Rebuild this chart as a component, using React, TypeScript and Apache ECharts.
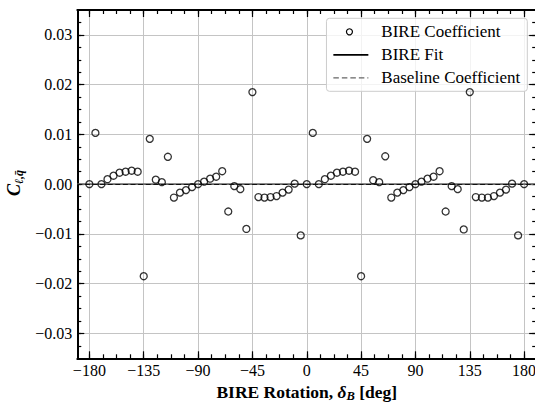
import { useEffect, useRef } from 'react';
import * as echarts from 'echarts';

// Rotation angles (deg) and measured BIRE coefficients
const ANGLES = [
  -180, -175, -170, -165, -160, -155, -150, -145, -140, -135, -130, -125, -120, -115, -110, -105, -100, -95,
  -90, -85, -80, -75, -70, -65, -60, -55, -50, -45, -40, -35, -30, -25, -20, -15, -10, -5,
  0, 5, 10, 15, 20, 25, 30, 35, 40, 45, 50, 55, 60, 65, 70, 75, 80, 85,
  90, 95, 100, 105, 110, 115, 120, 125, 130, 135, 140, 145, 150, 155, 160, 165, 170, 175, 180,
];
const BIRE_COEFF = [
  0, 0.0103, 0, 0.001, 0.0017, 0.0023, 0.0025, 0.0027, 0.0025, -0.0185, 0.0091, 0.0009, 0.0004, 0.0055, -0.0027, -0.0017, -0.0012, -0.0006,
  0, 0.0005, 0.0011, 0.0015, 0.0026, -0.0055, -0.0004, -0.001, -0.009, 0.0185, -0.0026, -0.0027, -0.0026, -0.0024, -0.0017, -0.0011, 0.0001, -0.0103,
  0, 0.0103, 0, 0.001, 0.0017, 0.0023, 0.0025, 0.0027, 0.0025, -0.0185, 0.0091, 0.0008, 0.0004, 0.0056, -0.0027, -0.0017, -0.0012, -0.0006,
  0, 0.0005, 0.0011, 0.0015, 0.0026, -0.0055, -0.0004, -0.001, -0.0091, 0.0185, -0.0026, -0.0027, -0.0027, -0.0024, -0.0017, -0.0011, 0.0001, -0.0103, 0,
];
const FIT_ANGLES = [-190, -90, 0, 90, 190];
const FIT_VALUES = [0, 0, 0, 0, 0];
const BASELINE_VALUE = 0;

const X_LIMITS = [-190, 190];
const Y_LIMITS = [-0.035, 0.035];
const X_TICKS = [-180, -135, -90, -45, 0, 45, 90, 135, 180];
const X_MINOR_TICKS = [
  -180, -168.75, -157.5, -146.25, -135, -123.75, -112.5, -101.25, -90, -78.75, -67.5, -56.25, -45, -33.75, -22.5, -11.25,
  0, 11.25, 22.5, 33.75, 45, 56.25, 67.5, 78.75, 90, 101.25, 112.5, 123.75, 135, 146.25, 157.5, 168.75, 180,
];
const Y_TICKS = [-0.03, -0.02, -0.01, 0, 0.01, 0.02, 0.03];
const Y_MINOR_TICKS = [
  -0.0325, -0.03, -0.0275, -0.025, -0.0225, -0.02, -0.0175, -0.015, -0.0125, -0.01, -0.0075, -0.005, -0.0025, 0,
  0.0025, 0.005, 0.0075, 0.01, 0.0125, 0.015, 0.0175, 0.02, 0.0225, 0.025, 0.0275, 0.03, 0.0325,
];

const SERIF = 'Times New Roman';
const MINUS = '\u2212';
const fmtX = (v: number) => '{t|' + (v < -1e-9 ? MINUS : '') + Math.abs(Math.round(v)) + '}';
const fmtY = (v: number) => '{t|' + (v < -1e-9 ? MINUS : '') + Math.abs(v).toFixed(2) + '}';

const GRID_COLOR = '#c4c4c4';
const TICK_STYLE = { color: '#000', width: 1.2 };

// legend geometry
const LEGEND_RIGHT = 7.7;
const LEGEND_TOP = 18.3;
const LEGEND_PAD = [5, 7, 5, 6];
const LEGEND_ROW = 18;
const LEGEND_ICON_W = 35;

function makeAxis(kind: 'x' | 'y', position: string, major: boolean, withLabels: boolean) {
  const lim = kind === 'x' ? X_LIMITS : Y_LIMITS;
  const ticks = kind === 'x' ? (major ? X_TICKS : X_MINOR_TICKS) : (major ? Y_TICKS : Y_MINOR_TICKS);
  return {
    type: 'value',
    position,
    min: lim[0],
    max: lim[1],
    axisLine: { show: major, onZero: false, lineStyle: { color: '#000', width: 2 } },
    axisTick: { show: true, inside: true, length: major ? 7 : 4, customValues: ticks, lineStyle: TICK_STYLE },
    axisLabel: withLabels
      ? {
          show: true,
          customValues: ticks,
          formatter: kind === 'x' ? fmtX : fmtY,
          fontFamily: SERIF,
          fontSize: 16,
          color: '#000',
          margin: kind === 'x' ? 4 : 5,
          rich: { t: { fontFamily: SERIF, fontSize: 16, lineHeight: 16, color: '#000' } },
        }
      : { show: false },
    splitLine: withLabels
      ? { show: true, lineStyle: { color: GRID_COLOR, width: 1 } }
      : { show: false },
    minorTick: { show: false },
  };
}

export default function App() {
  const ref = useRef<HTMLDivElement>(null);
  useEffect(() => {
    if (!ref.current) return;
    const chart = echarts.init(ref.current, undefined, { renderer: 'svg' });
    const xBottom: any = makeAxis('x', 'bottom', true, true);
    xBottom.name = '{b|BIRE Rotation, }{i|δ}{s|B}{b| [deg]}';
    xBottom.nameLocation = 'middle';
    xBottom.nameGap = 17;
    xBottom.nameTextStyle = {
      fontFamily: SERIF,
      rich: {
        b: { fontFamily: SERIF, fontWeight: 'bold', fontSize: 17.5, lineHeight: 20, color: '#000' },
        i: { fontFamily: SERIF, fontWeight: 'bold', fontStyle: 'italic', fontSize: 17.5, lineHeight: 20, color: '#000' },
        s: { fontFamily: SERIF, fontWeight: 'bold', fontStyle: 'italic', fontSize: 12.5, lineHeight: 12, verticalAlign: 'bottom', color: '#000' },
      },
    };
    const option: any = {
      animation: false,
      backgroundColor: '#fff',
      textStyle: { fontFamily: SERIF },
      grid: { left: 77.3, top: 10, width: 458.9, height: 348.3, containLabel: false, outerBoundsMode: 'none' },
      xAxis: [
        xBottom,
        makeAxis('x', 'bottom', false, false),
        makeAxis('x', 'top', true, false),
        makeAxis('x', 'top', false, false),
      ],
      yAxis: [
        makeAxis('y', 'left', true, true),
        makeAxis('y', 'left', false, false),
        makeAxis('y', 'right', true, false),
        makeAxis('y', 'right', false, false),
      ],
      legend: {
        orient: 'vertical',
        right: LEGEND_RIGHT,
        top: LEGEND_TOP,
        padding: LEGEND_PAD,
        itemGap: 6,
        itemWidth: LEGEND_ICON_W,
        itemHeight: 7,
        selectedMode: false,
        backgroundColor: 'rgba(255,255,255,0.8)',
        borderColor: '#cccccc',
        borderWidth: 1,
        borderRadius: 3,
        formatter: (name: string) => '{t|' + name + '}',
        textStyle: {
          fontFamily: SERIF,
          fontSize: 17,
          color: '#000',
          rich: { t: { fontFamily: SERIF, fontSize: 17, lineHeight: LEGEND_ROW, color: '#000', padding: [0, 0, 0, 8] } },
        },
        data: [
          { name: 'BIRE Coefficient', icon: 'circle', itemStyle: { opacity: 0 } },
          { name: 'BIRE Fit', itemStyle: { opacity: 0 }, lineStyle: { color: '#000', width: 1.8 } },
          { name: 'Baseline Coefficient', itemStyle: { opacity: 0 }, lineStyle: { color: '#666', width: 1.2, type: [5.5, 3] } },
        ],
      },
      series: [
        {
          name: 'BIRE Fit',
          type: 'line',
          xAxisIndex: 0,
          yAxisIndex: 0,
          data: FIT_ANGLES.map((a, i) => [a, FIT_VALUES[i]]),
          symbol: 'none',
          showSymbol: false,
          color: '#000',
          lineStyle: { color: '#666', width: 1.8 },
          z: 2,
        },
        {
          name: 'Baseline Coefficient',
          type: 'line',
          xAxisIndex: 0,
          yAxisIndex: 0,
          data: [],
          symbol: 'none',
          color: '#666',
          lineStyle: { color: '#666', width: 1.2, type: [5.5, 3] },
          markLine: {
            silent: true,
            symbol: 'none',
            label: { show: false },
            lineStyle: { color: '#111', width: 1, type: [5, 2.6] },
            data: [{ yAxis: BASELINE_VALUE }],
          },
          z: 3,
        },
        {
          name: 'BIRE Coefficient',
          type: 'scatter',
          xAxisIndex: 0,
          yAxisIndex: 0,
          data: ANGLES.map((a, i) => [a, BIRE_COEFF[i]]),
          symbol: 'circle',
          symbolSize: 7,
          itemStyle: { color: 'rgba(255,255,255,0)', borderColor: '#000', borderWidth: 1.3 },
          z: 4,
        },
      ],
      graphic: [
        {
          type: 'text',
          x: 14,
          y: 183,
          rotation: Math.PI / 2,
          style: {
            text: '{c|C}{s|ℓ,q̄}',
            align: 'center',
            verticalAlign: 'middle',
            rich: {
              c: { fontFamily: SERIF, fontWeight: 'bold', fontStyle: 'italic', fontSize: 18, lineHeight: 22, fill: '#000' },
              s: { fontFamily: SERIF, fontWeight: 'bold', fontStyle: 'italic', fontSize: 12, lineHeight: 14, verticalAlign: 'bottom', fill: '#000' },
            },
          },
        },
      ],
    };
    chart.setOption(option);

    // legend ring marker, centred on the first legend row's icon box
    const legendView: any = (chart as any).getViewOfComponentModel?.((chart as any).getModel().getComponent('legend'));
    let cx = 0;
    let cy = 0;
    const rect = legendView?.group?.getBoundingRect?.();
    if (rect && legendView.group) {
      cx = legendView.group.x + rect.x + LEGEND_PAD[3] + LEGEND_ICON_W / 2;
      cy = legendView.group.y + rect.y + LEGEND_PAD[0] + LEGEND_ROW / 2;
    } else {
      cx = 535 - LEGEND_RIGHT - 200 + LEGEND_PAD[3] + LEGEND_ICON_W / 2;
      cy = LEGEND_TOP + LEGEND_PAD[0] + LEGEND_ROW / 2;
    }
    chart.setOption({
      graphic: [
        option.graphic[0],
        {
          type: 'circle',
          z: 100,
          silent: true,
          shape: { cx, cy, r: 3.0 },
          style: { fill: 'none', stroke: '#000', lineWidth: 1.2 },
        },
      ],
    });
    return () => chart.dispose();
  }, []);
  return <div ref={ref} style={{ position: 'fixed', left: 0, top: 0, width: 535, height: 402 }} />;
}
